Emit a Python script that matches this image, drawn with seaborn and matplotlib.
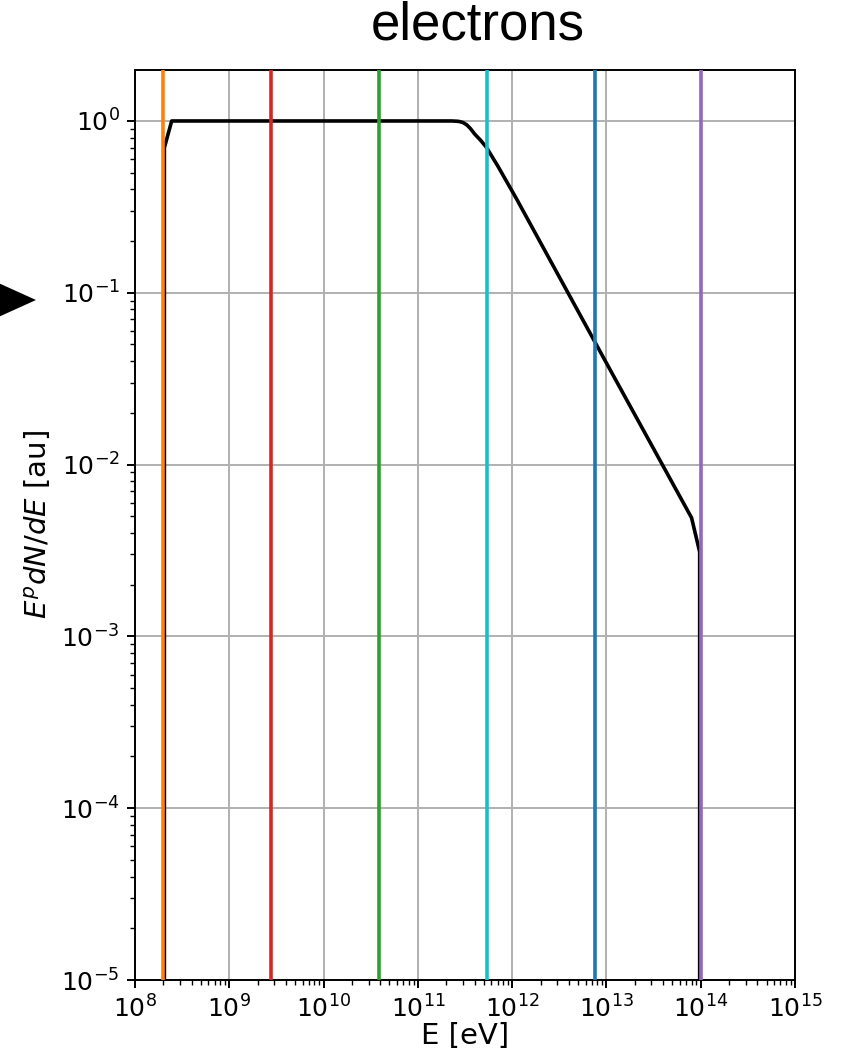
import matplotlib
matplotlib.use("Agg")
import matplotlib.pyplot as plt
from matplotlib.patches import Polygon
from matplotlib.ticker import LogLocator, NullFormatter
import seaborn as sns
import pandas as pd

# Spectral shape E^p dN/dE (arbitrary units) versus particle energy
energy_eV = [2.05e8, 2.05e8, 2.45e8, 1e9, 1e10, 1e11, 2.3e11, 2.7e11, 3.0e11, 3.3e11,
             3.6e11, 4.0e11, 4.6e11, 5.3e11, 7.0e11, 1.12e12, 1e13, 8.0e13, 9.75e13, 9.75e13]
spectrum = [1e-7, 0.70, 1.0, 1.0, 1.0, 1.0, 1.0, 0.995, 0.98, 0.95,
            0.905, 0.84, 0.775, 0.706, 0.55, 0.35, 0.039, 0.0049, 0.0031, 1e-7]

# Reference energies marked by vertical lines
marker_energies = [2.0e8, 2.78e9, 3.87e10, 5.38e11, 7.48e12, 1.0e14]
marker_colors = ["tab:orange", "tab:red", "tab:green", "tab:cyan", "tab:blue", "tab:purple"]

title_text = "electrons"
x_label = "E [eV]"
y_label = r"$E^p dN/dE$ [au]"

sns.set_style("ticks", {
    "axes.edgecolor": "black",
    "axes.labelcolor": "black",
    "text.color": "black",
    "xtick.color": "black",
    "ytick.color": "black",
    "axes.grid": True,
    "grid.color": "#b0b0b0",
    "xtick.direction": "out",
    "ytick.direction": "out",
})
plt.rcParams["font.family"] = ["DejaVu Sans"]
plt.rcParams["mathtext.fontset"] = "dejavusans"

fig = plt.figure(figsize=(8.42, 10.56), dpi=100)
ax = fig.add_axes([135 / 842, 1 - 980 / 1056, 660 / 842, 910 / 1056])

df = pd.DataFrame({"E": energy_eV, "S": spectrum})
sns.lineplot(data=df, x="E", y="S", ax=ax, color="black", linewidth=2.6,
             sort=False, estimator=None, zorder=2)

for e, c in zip(marker_energies, marker_colors):
    ax.axvline(e, color=c, linewidth=2.6, zorder=3)

ax.set_xscale("log")
ax.set_yscale("log")
ax.set_xlim(1e8, 1e15)
ax.set_ylim(1e-5, 1.98)

ax.xaxis.set_major_locator(LogLocator(base=10, numticks=20))
ax.xaxis.set_minor_locator(LogLocator(base=10, subs=range(2, 10), numticks=100))
ax.xaxis.set_minor_formatter(NullFormatter())
ax.yaxis.set_major_locator(LogLocator(base=10, numticks=20))
ax.yaxis.set_minor_locator(LogLocator(base=10, subs=range(2, 10), numticks=100))
ax.yaxis.set_minor_formatter(NullFormatter())

ax.grid(True, which="major", color="#b0b0b0", linewidth=1.4)
ax.grid(False, which="minor")
ax.set_axisbelow(True)

for s in ax.spines.values():
    s.set_linewidth(1.4)
    s.set_color("black")
    s.set_visible(True)

ax.tick_params(which="major", length=6, width=1.4, labelsize=18, pad=5)
ax.tick_params(which="minor", length=3.5, width=1.0)

ax.set_xlabel(x_label, fontsize=21, labelpad=0)
ax.set_ylabel(y_label, fontsize=21, labelpad=6)

fig.text(478 / 842, 1 - 40 / 1056, title_text, fontsize=38,
         family="Liberation Sans", ha="center", va="baseline")

# Pointer triangle at the left edge
tri = Polygon([(-6 / 842, 1 - 281 / 1056), (36 / 842, 1 - 300 / 1056),
               (-6 / 842, 1 - 319 / 1056)], closed=True,
              transform=fig.transFigure, facecolor="black", edgecolor="none",
              clip_on=False)
fig.add_artist(tri)

fig.savefig("out.png", dpi=100)
